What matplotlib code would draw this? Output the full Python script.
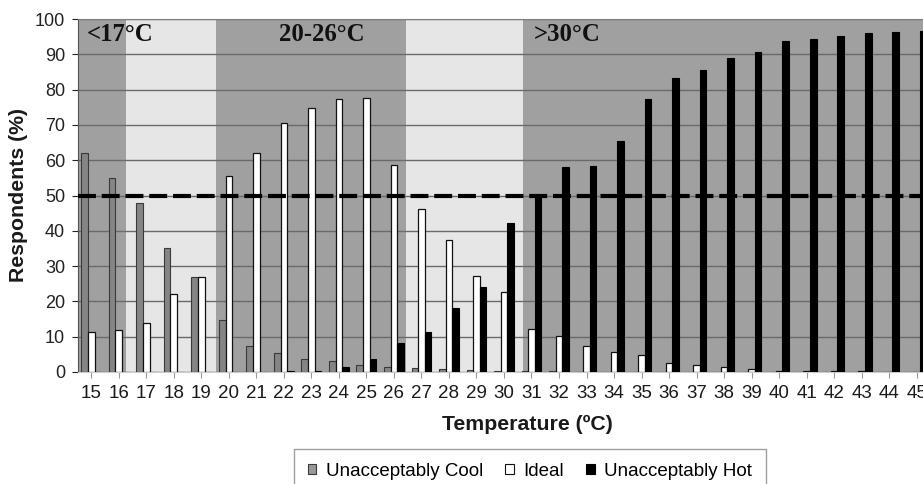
import matplotlib
matplotlib.use("Agg")
import matplotlib.pyplot as plt
from matplotlib.patches import Patch
import numpy as np

plt.rcParams["font.family"] = ["Liberation Sans", "DejaVu Sans"]

temps = list(range(15, 46))
cool = [62, 55, 48, 35.2, 27, 14.7, 7.5, 5.3, 3.6, 3.0, 2.0, 1.4, 1.2, 0.9, 0.7, 0.4,
        0.3, 0.2, 0.1, 0.1, 0.1, 0, 0, 0, 0, 0, 0, 0, 0, 0, 0]
ideal = [11.2, 11.8, 13.8, 22.1, 27, 55.6, 62.0, 70.5, 74.7, 77.4, 77.6, 58.6, 46.2, 37.3, 27.3, 22.7,
         12.3, 10.3, 7.5, 5.7, 4.7, 2.5, 2.0, 1.3, 0.9, 0.4, 0.3, 0.2, 0.2, 0.1, 0.1]
hot = [0, 0, 0, 0, 0, 0, 0.1, 0.2, 0.4, 1.3, 3.6, 8.2, 11.2, 18.2, 24.2, 42.3,
       50.1, 58.2, 58.4, 65.5, 77.3, 83.2, 85.6, 88.9, 90.7, 93.8, 94.2, 95.3, 95.9, 96.4, 96.7]
series_names = ["Unacceptably Cool", "Ideal", "Unacceptably Hot"]
zone_labels = ["<17°C", "20-26°C", ">30°C"]
threshold = 50

W, H = 923, 484
fig = plt.figure(figsize=(W / 100, H / 100), dpi=100)
ax = fig.add_axes([77.5 / W, 1 - 372 / H, 1 - 77.5 / W, (372 - 19) / H])

x = np.arange(len(temps))
bw = 0.24
dark_bg = "#a0a0a0"
light_bg = "#e6e6e6"

# background bands (in category index coordinates)
bands = [(-0.5, 1.27, dark_bg), (1.27, 4.54, light_bg), (4.54, 11.45, dark_bg),
         (11.45, 15.68, light_bg), (15.68, 31, dark_bg)]
for a, b, c in bands:
    ax.axvspan(a, b, color=c, zorder=0, lw=0)

ax.yaxis.grid(True, color="#6a6a6a", lw=1.0, zorder=1)
ax.set_axisbelow(True)

ax.bar(x - bw, cool, bw, color="#858585", edgecolor="#3a3a3a", lw=0.8, zorder=3)
ax.bar(x, ideal, bw, color="white", edgecolor="#111111", lw=0.9, zorder=3)
ax.bar(x + bw, hot, bw, color="black", edgecolor="black", lw=0.8, zorder=3)

ax.axhline(threshold, color="black", lw=3.0, dashes=(4.3, 1.4), zorder=5)

ax.set_xlim(-0.5, 30.23)
ax.set_ylim(0, 100)
ax.set_yticks(range(0, 101, 10))
ax.set_xticks(x)
ax.set_xticklabels([str(t) for t in temps])
ax.tick_params(axis="both", colors="#222222", length=4, width=0.8, direction="out")
ax.tick_params(axis="y", pad=5, labelsize=13)
ax.tick_params(axis="x", pad=5, labelsize=13.5, colors="#999999", labelcolor="#1a1a1a")
ax.spines["left"].set_color("#555555")
ax.spines["top"].set_color("#808080")
ax.spines["bottom"].set_color("#cccccc")
ax.spines["right"].set_visible(False)

ax.set_ylabel("Respondents (%)", fontsize=15.3, fontweight="bold", color="#1a1a1a", labelpad=5)

serif = dict(family=["Liberation Serif", "DejaVu Serif"], fontweight="bold", fontsize=17.8,
             color="#111111", zorder=6)
ax.text(-0.17, 95.6, zone_labels[0], ha="left", va="center", **serif)
ax.text(8.38, 95.6, zone_labels[1], ha="center", va="center", **serif)
ax.text(16.07, 95.6, zone_labels[2], ha="left", va="center", **serif)

fig.text(527 / W, 1 - 424 / H, "Temperature (ºC)", ha="center", va="center",
         fontsize=15.3, fontweight="bold", color="#1a1a1a")

handles = [Patch(facecolor="#999999", edgecolor="#3a3a3a", lw=0.8),
           Patch(facecolor="white", edgecolor="#111111", lw=0.8),
           Patch(facecolor="black", edgecolor="black", lw=0.8)]
leg = fig.legend(handles, series_names, loc="upper center", ncol=3,
                 bbox_to_anchor=(530 / W, 1 - 449 / H), fontsize=13.5,
                 handlelength=0.45, handleheight=0.45, handletextpad=0.5,
                 columnspacing=1.2, frameon=True, fancybox=False,
                 borderpad=0.75, borderaxespad=0, edgecolor="#888888")
leg.get_frame().set_linewidth(1.0)

fig.savefig("out.png", dpi=100)
